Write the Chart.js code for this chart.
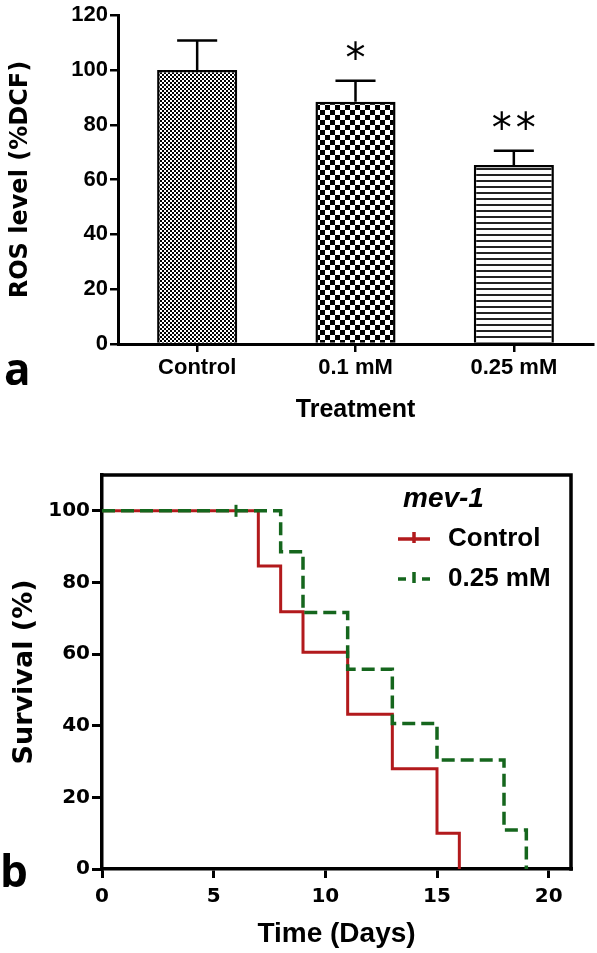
<!DOCTYPE html>
<html>
<head>
<meta charset="utf-8">
<script src="https://cdn.jsdelivr.net/npm/chart.js@4.4.1/dist/chart.umd.min.js"></script>
<style>
  body { margin: 0; background: #fff; }
  #page { position: relative; width: 597px; height: 953px; overflow: hidden; background: #fff; }
  canvas { position: absolute; left: 0; }
  #rosChart { top: 0; }
  #survivalChart { top: 450px; }
  .panel { position: absolute; font-family: 'Open Sans', sans-serif; font-weight: bold; font-size: 44px; line-height: 44px; color: #000; }
</style>
</head>
<body>
<div id="page">
  <canvas id="rosChart" width="597" height="440"></canvas>
  <canvas id="survivalChart" width="597" height="503"></canvas>
  <div class="panel" style="left:4px; top:346px;">a</div>
  <div class="panel" style="left:0px; top:848px;">b</div>
</div>
<script>
// panel a: ROS level
var categories = ['Control', '0.1 mM', '0.25 mM'];
var rosMeans = [100, 88.4, 65.3];
var rosErrors = [10.8, 7.7, 5.2];
var significance = ['', '*', '**'];
var rosTicks = [0, 20, 40, 60, 80, 100, 120];

// panel b: survival of mev-1
var controlDays = [0, 7, 8, 9, 11, 13, 15, 16];
var controlSurvival = [100, 84.6, 71.8, 60.5, 43.2, 28, 10, 0];
var treatedDays = [0, 8, 9, 11, 13, 15, 18, 19];
var treatedSurvival = [100, 88.6, 71.6, 55.8, 40.6, 30.4, 10.9, 0];
var censoredDays = [6];
var censoredSurvival = [100];
var dayTicks = [0, 5, 10, 15, 20];
var survivalTicks = [0, 20, 40, 60, 80, 100];
var seriesNames = ['Control', '0.25 mM'];
var strainName = 'mev-1';

var SANS = "'Liberation Sans', Arial, sans-serif";
var DEJAVU = "'DejaVu Sans', sans-serif";
var RED = '#b21a1c';
var GREEN = '#15661d';

function makePattern(kind) {
    var c = document.createElement('canvas');
    var g = c.getContext('2d');
    if (kind === 'fine') {
        c.width = 4; c.height = 4;
        g.fillStyle = '#fff'; g.fillRect(0, 0, 4, 4);
        g.fillStyle = '#000'; g.fillRect(0, 0, 2, 2); g.fillRect(2, 2, 2, 2);
    } else if (kind === 'checker') {
        c.width = 10; c.height = 10;
        g.fillStyle = '#fff'; g.fillRect(0, 0, 10, 10);
        g.fillStyle = '#000'; g.fillRect(0, 0, 5, 5); g.fillRect(5, 5, 5, 5);
    } else {
        c.width = 4; c.height = 6;
        g.fillStyle = '#fff'; g.fillRect(0, 0, 4, 6);
        g.fillStyle = '#222'; g.fillRect(0, 0, 4, 2);
    }
    return g.createPattern(c, 'repeat');
}

function zip(xs, ys) {
    return xs.map(function(x, i) { return {x: x, y: ys[i]}; });
}

var errorBars = {
    id: 'errorBars',
    afterDatasetsDraw: function(chart) {
        var ctx = chart.ctx;
        var y = chart.scales.y;
        var meta = chart.getDatasetMeta(0);
        ctx.save();
        ctx.strokeStyle = '#000';
        ctx.fillStyle = '#000';
        ctx.lineWidth = 2.5;
        meta.data.forEach(function(bar, i) {
            var top = y.getPixelForValue(rosMeans[i] + rosErrors[i]);
            var half = bar.width / 4;
            ctx.beginPath();
            ctx.moveTo(bar.x, bar.y);
            ctx.lineTo(bar.x, top);
            ctx.moveTo(bar.x - half, top);
            ctx.lineTo(bar.x + half, top);
            ctx.stroke();
            var marks = significance[i];
            ctx.font = '40px ' + DEJAVU;
            ctx.textAlign = 'center';
            ctx.textBaseline = 'alphabetic';
            for (var k = 0; k < marks.length; k++) {
                ctx.fillText(marks[k], bar.x + (k - (marks.length - 1) / 2) * 24, top - 9);
            }
        });
        ctx.restore();
    }
};

new Chart(document.getElementById('rosChart'), {
    type: 'bar',
    data: {
        labels: categories,
        datasets: [{
            data: rosMeans,
            backgroundColor: [makePattern('fine'), makePattern('checker'), makePattern('lines')],
            borderColor: '#000',
            borderWidth: 2.5,
            barPercentage: 0.506,
            categoryPercentage: 1
        }]
    },
    options: {
        responsive: false,
        animation: false,
        layout: { padding: { left: 0, top: 12, right: 4, bottom: 0 } },
        plugins: { legend: { display: false }, tooltip: { enabled: false } },
        scales: {
            x: {
                offset: true,
                afterFit: function(scale) { scale.height = 96; },
                grid: { offset: false, drawOnChartArea: false, tickLength: 8, color: '#000', lineWidth: 2.5 },
                border: { color: '#000', width: 3 },
                ticks: { color: '#000', padding: 3, font: { family: SANS, size: 22, weight: 'bold' } },
                title: { display: true, text: 'Treatment', color: '#000', padding: { top: 0, bottom: 15 },
                         font: { family: SANS, size: 25, weight: 'bold' } }
            },
            y: {
                min: 0,
                max: 120,
                afterFit: function(scale) { scale.width = 118; },
                afterBuildTicks: function(scale) { scale.ticks = rosTicks.map(function(v) { return {value: v}; }); },
                grid: { drawOnChartArea: false, tickLength: 8, color: '#000', lineWidth: 2.5 },
                border: { color: '#000', width: 3 },
                ticks: { color: '#000', padding: 2, font: { family: SANS, size: 22, weight: 'bold' } },
                title: { display: true, text: 'ROS level (%DCF)', color: '#000', padding: { top: 6, bottom: 0 },
                         font: { family: DEJAVU, size: 24, weight: 'bold' } }
            }
        }
    },
    plugins: [errorBars]
});

function legendSample(ctx, x, y, color, dashed) {
    ctx.strokeStyle = color;
    ctx.lineWidth = 3.5;
    ctx.beginPath();
    if (dashed) {
        ctx.moveTo(x, y); ctx.lineTo(x + 8, y);
        ctx.moveTo(x + 24, y); ctx.lineTo(x + 32, y);
    } else {
        ctx.moveTo(x, y); ctx.lineTo(x + 32, y);
    }
    ctx.moveTo(x + 16, y - 7); ctx.lineTo(x + 16, y + 4);
    ctx.stroke();
}

var frameAndLegend = {
    id: 'frameAndLegend',
    afterDraw: function(chart) {
        var ctx = chart.ctx;
        var a = chart.chartArea;
        ctx.save();
        ctx.strokeStyle = '#000';
        ctx.lineWidth = 3.5;
        ctx.lineCap = 'square';
        ctx.beginPath();
        ctx.moveTo(a.left, a.top);
        ctx.lineTo(a.right, a.top);
        ctx.lineTo(a.right, a.bottom);
        ctx.stroke();
        ctx.lineCap = 'butt';

        ctx.fillStyle = '#000';
        ctx.textAlign = 'left';
        ctx.textBaseline = 'middle';
        ctx.font = 'italic bold 28px ' + SANS;
        ctx.fillText(strainName, 403, 49);
        ctx.font = 'bold 26px ' + SANS;
        legendSample(ctx, 398, 89, RED, false);
        ctx.fillText(seriesNames[0], 448, 89);
        legendSample(ctx, 398, 129, GREEN, true);
        ctx.fillText(seriesNames[1], 448, 129);
        ctx.restore();
    }
};

new Chart(document.getElementById('survivalChart'), {
    type: 'line',
    data: {
        datasets: [{
            label: seriesNames[1],
            data: zip(treatedDays, treatedSurvival),
            stepped: true,
            borderColor: GREEN,
            borderWidth: 3.5,
            borderDash: [13, 6],
            pointRadius: 0,
            order: 0
        }, {
            label: seriesNames[0],
            data: zip(controlDays, controlSurvival),
            stepped: true,
            borderColor: RED,
            borderWidth: 3,
            pointRadius: 0,
            order: 1
        }, {
            type: 'scatter',
            label: 'censored',
            data: zip(censoredDays, censoredSurvival),
            pointStyle: 'line',
            rotation: 90,
            pointRadius: 6,
            borderColor: GREEN,
            borderWidth: 3,
            order: 0
        }]
    },
    options: {
        responsive: false,
        animation: false,
        layout: { padding: { left: 0, top: 25, right: 26, bottom: 0 } },
        plugins: { legend: { display: false }, tooltip: { enabled: false } },
        scales: {
            x: {
                type: 'linear',
                min: 0,
                max: 21,
                afterFit: function(scale) { scale.height = 84; },
                afterBuildTicks: function(scale) { scale.ticks = dayTicks.map(function(v) { return {value: v}; }); },
                grid: { drawOnChartArea: false, tickLength: 9, color: '#000', lineWidth: 3 },
                border: { color: '#000', width: 3.5 },
                ticks: { color: '#000', padding: 7, font: { family: DEJAVU, size: 20, weight: 'bold' } },
                title: { display: true, text: 'Time (Days)', color: '#000', padding: { top: 0, bottom: 2 },
                         font: { family: SANS, size: 28, weight: 'bold' } }
            },
            y: {
                min: 0,
                max: 110,
                afterFit: function(scale) { scale.width = 102; },
                afterBuildTicks: function(scale) { scale.ticks = survivalTicks.map(function(v) { return {value: v}; }); },
                grid: { drawOnChartArea: false, tickLength: 10, color: '#000', lineWidth: 3 },
                border: { color: '#000', width: 3.5 },
                ticks: { color: '#000', padding: 2, font: { family: DEJAVU, size: 20, weight: 'bold' } },
                title: { display: true, text: 'Survival (%)', color: '#000', padding: { top: 9, bottom: 0 },
                         font: { family: DEJAVU, size: 27, weight: 'bold' } }
            }
        }
    },
    plugins: [frameAndLegend]
});
</script>
</body>
</html>
